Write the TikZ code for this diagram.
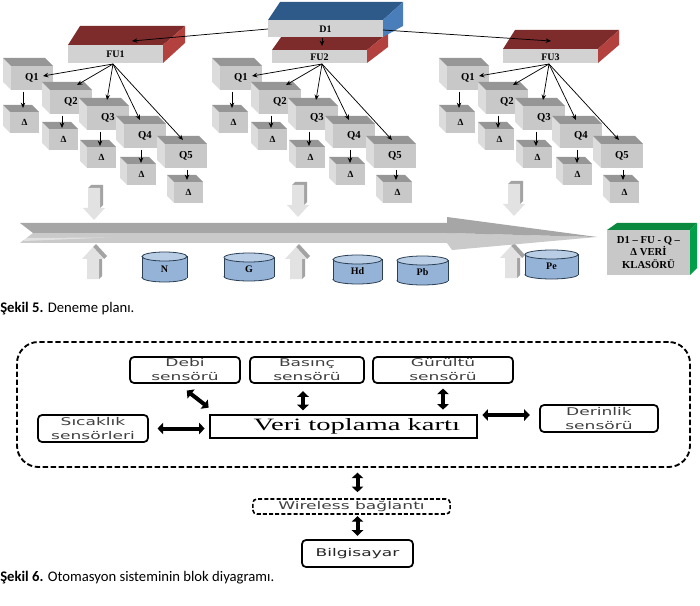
\documentclass[tikz,border=0pt]{standalone}
\usepackage{graphicx}
\usepackage{fontspec}
\setmainfont{Liberation Serif}
\newfontfamily\capfont{Carlito}
\newfontfamily\sensfont{DejaVu Sans}
\newfontfamily\verifont{Liberation Serif}
\newcommand\stx[1]{\scalebox{1.6}[1]{#1}}
\newcommand\vtx[1]{\scalebox{1.65}[1]{#1}}
\usetikzlibrary{arrows.meta}

\definecolor{cubetop}{HTML}{969696}
\definecolor{cubefront}{HTML}{C8C8C8}
\definecolor{cubeside}{HTML}{DCDCDC}
\definecolor{futop}{HTML}{7E2B2B}
\definecolor{fuside}{HTML}{B3423F}
\definecolor{dtop}{HTML}{2E5A8A}
\definecolor{dside}{HTML}{4A7EBB}
\definecolor{boxfront}{HTML}{D2D2D2}
\definecolor{cylfill}{HTML}{95B3D7}
\definecolor{cyltop}{HTML}{B9CDE5}
\definecolor{cylline}{HTML}{2B3F55}
\definecolor{shaftdark}{HTML}{A6A6A6}
\definecolor{shaftlight}{HTML}{CACACA}
\definecolor{barfront}{HTML}{E2E2E2}
\definecolor{barside}{HTML}{A3A3A3}
\definecolor{greenside}{HTML}{00A04A}
\definecolor{greentop}{HTML}{0B8A3F}
\definecolor{senstext}{HTML}{404040}

% cube seen from upper left: x0, y0, width, height, depth, name, label
\newcommand\mycube[7]{%
  \fill[cubeside] (#1,#2) -- ({#1+#5},{#2+#5}) -- ({#1+#5},{#2+#4}) -- (#1,{#2+#4-#5}) -- cycle;
  \fill[cubetop] (#1,#2) -- ({#1+#3-#5},#2) -- ({#1+#3},{#2+#5}) -- ({#1+#5},{#2+#5}) -- cycle;
  \fill[cubefront] ({#1+#5},{#2+#5}) rectangle ({#1+#3},{#2+#4});
  \node[lab] (#6) at ({#1+(#3+#5)/2},{#2+(#4+#5)/2}) {#7};
}
% cylinder: x0, ytop, x1, ybottom, name, label
\newcommand\mycyl[6]{%
  \pgfmathsetmacro\cylcx{(#1+#3)/2}
  \pgfmathsetmacro\cylrx{(#3-#1)/2*0.75}
  \filldraw[fill=cylfill,draw=cylline,line width=0.6pt] (\cylcx,{#4-4.5}) ellipse[x radius=\cylrx pt, y radius=3.375pt];
  \fill[cylfill] (#1,{#2+4.5}) rectangle (#3,{#4-4.5});
  \draw[cylline,line width=0.6pt] (#1,{#2+4.5}) -- (#1,{#4-4.5}) (#3,{#2+4.5}) -- (#3,{#4-4.5});
  \filldraw[fill=cyltop,draw=cylline,line width=0.6pt] (\cylcx,{#2+4.5}) ellipse[x radius=\cylrx pt, y radius=3.375pt];
  \node[cyllab] (#5) at (\cylcx,{(#2+#4)/2+2}) {#6};
}
% small 3D block arrows
\newcommand\blkdown[2]{%
  \fill[barside] ({#1+5},#2) -- ({#1+8},{#2-3}) -- ({#1+20},{#2-3}) -- ({#1+20},{#2+17}) -- ({#1+17},{#2+20}) -- ({#1+17},#2) -- cycle;
  \fill[barfront] ({#1+5},#2) -- ({#1+17},#2) -- ({#1+17},{#2+20}) -- ({#1+22},{#2+20}) -- ({#1+11},{#2+32}) -- (#1,{#2+20}) -- ({#1+5},{#2+20}) -- cycle;
}
\newcommand\blkup[2]{%
  \fill[barside] ({#1+11},#2) -- ({#1+14},{#2-3}) -- ({#1+25},{#2+9}) -- ({#1+22},{#2+12}) -- cycle;
  \fill[barside] ({#1+17},{#2+12}) -- ({#1+20},{#2+10}) -- ({#1+20},{#2+29}) -- ({#1+17},{#2+32}) -- cycle;
  \fill[barfront] ({#1+11},#2) -- ({#1+22},{#2+12}) -- ({#1+17},{#2+12}) -- ({#1+17},{#2+32}) -- ({#1+5},{#2+32}) -- ({#1+5},{#2+12}) -- (#1,{#2+12}) -- cycle;
}
% one FU group of Q and Delta cubes
\newcommand\qgroup[1]{%
  \mycube{3}{105}{36}{28}{7}{#1d1}{\fontsize{7}{8}\selectfont Δ}
  \mycube{42}{122}{36}{28}{7}{#1d2}{\fontsize{7}{8}\selectfont Δ}
  \mycube{80}{140}{36}{28}{7}{#1d3}{\fontsize{7}{8}\selectfont Δ}
  \mycube{120}{157}{36}{28}{7}{#1d4}{\fontsize{7}{8}\selectfont Δ}
  \mycube{167}{175}{36}{28}{7}{#1d5}{\fontsize{7}{8}\selectfont Δ}
  \mycube{3}{58}{50}{32}{8}{#1q1}{Q1}
  \mycube{42}{82}{50}{32}{8}{#1q2}{Q2}
  \mycube{79}{98}{50}{32}{8}{#1q3}{Q3}
  \mycube{116}{116}{50}{32}{8}{#1q4}{Q4}
  \mycube{157}{136}{50}{32}{8}{#1q5}{Q5}
  \coordinate (#1s) at (113,64);
  \coordinate (#1t1) at (43,76);
  \coordinate (#1t2) at (77,85);
  \coordinate (#1t3) at (107,100);
  \coordinate (#1t4) at (140,120);
  \coordinate (#1t5) at (183,140);
  \foreach \i in {1,...,5} {\draw[tarr] (#1s) -- (#1t\i);}
  \coordinate (#1a1) at (23,92);   \coordinate (#1b1) at (23,108);
  \coordinate (#1a2) at (62,116);  \coordinate (#1b2) at (62,128);
  \coordinate (#1a3) at (100,132); \coordinate (#1b3) at (100,146);
  \coordinate (#1a4) at (141,150); \coordinate (#1b4) at (141,163);
  \coordinate (#1a5) at (187,170); \coordinate (#1b5) at (187,180);
  \foreach \i in {1,...,5} {\draw[tarr] (#1a\i) -- (#1b\i);}
}

\begin{document}
\begin{tikzpicture}[x=0.75pt,y=-0.75pt,
  lab/.style={font=\bfseries\fontsize{8}{9}\selectfont, inner sep=0pt},
  fulab/.style={font=\bfseries\fontsize{7.5}{9}\selectfont, inner sep=0pt},
  cyllab/.style={font=\bfseries\fontsize{7.5}{8}\selectfont, inner sep=0pt},
  tarr/.style={-{Stealth[length=4pt,width=3.4pt]}, line width=0.55pt},
  sbox/.style={draw, line width=1.3pt, rounded corners=3pt, inner sep=0pt, align=center,
    font=\sensfont\fontsize{8}{10.5}\selectfont, text=senstext},
  barr/.style={{Triangle[width=8.5pt,length=4.2pt]}-{Triangle[width=8.5pt,length=4.2pt]}, line width=3pt},
  capt/.style={anchor=base west, inner sep=0pt, font=\capfont\fontsize{11}{13}\selectfont}]
\useasboundingbox (0,0) rectangle (700,606);

% ---------- FU boxes and D1 ----------
\fill[futop] (68,45) -- (80,26) -- (185,26) -- (163,45) -- cycle;
\fill[fuside] (163,45) -- (185,26) -- (185,43) -- (163,63) -- cycle;
\fill[boxfront] (68,45) rectangle (163,63);
\node[fulab] (fu1) at (115.5,54.5) {FU1};

\fill[futop] (272,50) -- (284,33) -- (388,33) -- (367,50) -- cycle;
\fill[fuside] (367,50) -- (388,33) -- (388,47) -- (367,63) -- cycle;
\fill[boxfront] (272,50) rectangle (367,63);
\node[fulab] (fu2) at (319.5,57) {FU2};

\fill[futop] (503,49) -- (515,30) -- (619,30) -- (598,49) -- cycle;
\fill[fuside] (598,49) -- (619,30) -- (619,45) -- (598,63) -- cycle;
\fill[boxfront] (503,49) rectangle (598,63);
\node[fulab] (fu3) at (550.5,57) {FU3};

\fill[dtop] (268,20) -- (280,2) -- (403,2) -- (383,20) -- cycle;
\fill[dside] (383,20) -- (403,2) -- (403,26) -- (383,37) -- cycle;
\fill[boxfront] (268,20) rectangle (383,37);
\node[fulab] (d1) at (325.5,29) {D1};

\coordinate (d1a) at (268,29);  \coordinate (fu1t) at (132,41);
\coordinate (d1b) at (322,38);  \coordinate (fu2t) at (322,46);
\coordinate (d1c) at (383,30);  \coordinate (fu3t) at (551,41);
\draw[tarr] (d1a) -- (fu1t);
\draw[tarr] (d1b) -- (fu2t);
\draw[tarr] (d1c) -- (fu3t);

% ---------- Q / Delta groups ----------
\begin{scope}\qgroup{ga}\end{scope}
\begin{scope}[shift={(209,0)}]\qgroup{gb}\end{scope}
\begin{scope}[shift={(436,0)}]\qgroup{gc}\end{scope}

% ---------- small block arrows ----------
\blkdown{83}{188}
\blkdown{287}{185}
\blkdown{503}{184}
\blkup{82}{247}
\blkup{285}{247}
\blkup{500}{246}

% ---------- main arrow ----------
\fill[shaftlight] (33,233) -- (447,233) -- (597,237) -- (452,250) -- (447,243) -- (20,243) -- cycle;
\fill[white,opacity=0.45] (24,238) -- (110,237.5) -- (24,241) -- cycle;
\fill[shaftdark] (20,223) -- (447,223) -- (447,217) -- (597,237) -- (447,233) -- (33,233) -- cycle;

% ---------- cylinders ----------
\mycyl{142}{252}{187}{282}{cn}{N}
\mycyl{224}{253}{274}{281}{cg}{G}
\mycyl{333}{255}{382}{284}{chd}{Hd}
\mycyl{397}{256}{448}{285}{cpb}{Pb}
\mycyl{525}{250}{578}{279}{cpe}{Pe}

% ---------- green folder box ----------
\fill[greentop] (607,230) -- (617,223) -- (697,223) -- (690,230) -- cycle;
\fill[greenside] (690,230) -- (697,223) -- (697,268) -- (690,275) -- cycle;
\fill[cubefront] (607,230) rectangle (690,275);
\node[align=center, inner sep=0pt, font=\bfseries\fontsize{8}{9.3}\selectfont] (klasor) at (648.5,252.5)
  {D1 – FU - Q –\\Δ VERİ\\KLASÖRÜ};

% ---------- caption 5 ----------
\node[capt] (cap5) at (0,312) {\textbf{Şekil 5.} Deneme planı.};

% ---------- block diagram ----------
\node[draw, line width=1.4pt, dash pattern=on 4pt off 2pt, rounded corners=16pt,
  minimum width=504.75pt, minimum height=93.75pt] (cont) at (353.5,404.5) {};

\node[sbox, minimum width=82.5pt, minimum height=19.5pt] (debi) at (185,370) {\stx{Debi}\\\stx{sensörü}};
\node[sbox, minimum width=85.5pt, minimum height=19.5pt] (basinc) at (307,370) {\stx{Basınç}\\\stx{sensörü}};
\node[sbox, minimum width=105pt, minimum height=19.5pt] (gurultu) at (443,370) {\stx{Gürültü}\\\stx{sensörü}};
\node[sbox, minimum width=82.5pt, minimum height=20.25pt] (sicaklik) at (93,428.5) {\stx{Sıcaklık}\\\stx{sensörleri}};
\node[draw, line width=1pt, inner sep=0pt, minimum width=200.25pt, minimum height=17.25pt,
  font=\verifont\fontsize{13}{14}\selectfont] (veri) at (343.5,426.5) {\hspace*{20pt}\vtx{Veri toplama kartı}};
\node[sbox, minimum width=88.5pt, minimum height=20.25pt] (derin) at (599,418.5) {\stx{Derinlik}\\\stx{sensörü}};
\node[sbox, line width=1.2pt, dash pattern=on 3pt off 1.6pt, minimum width=148pt, minimum height=11.25pt] (wire) at (351.5,506.5) {\stx{Wireless bağlantı}};
\node[sbox, text=black!85, minimum width=83.25pt, minimum height=20.25pt] (bilg) at (357.5,553.5) {\stx{Bilgisayar}};

\draw[barr, shorten <=8.25pt, shorten >=8.25pt] ([xshift=-5.25pt]debi.south) -- ([xshift=6pt]veri.north west);
\draw[barr, shorten <=5.5pt, shorten >=3pt] ([xshift=-3pt]basinc.south) -- ([xshift=-3pt]basinc.south |- veri.north);
\draw[barr, shorten <=3.5pt, shorten >=3.5pt] (gurultu.south) -- (gurultu.south |- veri.north);
\draw[barr, shorten <=6.5pt, shorten >=3.5pt] (sicaklik.east) -- (sicaklik.east -| veri.west);
\draw[barr, shorten <=3.5pt, shorten >=7pt] ([yshift=2.6pt]derin.west -| veri.east) -- ([yshift=2.6pt]derin.west);
\draw[barr, shorten <=3.5pt, shorten >=4.5pt] (bilg.north |- cont.south) -- (bilg.north |- wire.north);
\draw[barr, shorten <=1pt, shorten >=2.5pt] (bilg.north |- wire.south) -- (bilg.north);

% ---------- caption 6 ----------
\node[capt] (cap6) at (0,581) {\textbf{Şekil 6.} Otomasyon sisteminin blok diyagramı.};
\end{tikzpicture}
\end{document}
